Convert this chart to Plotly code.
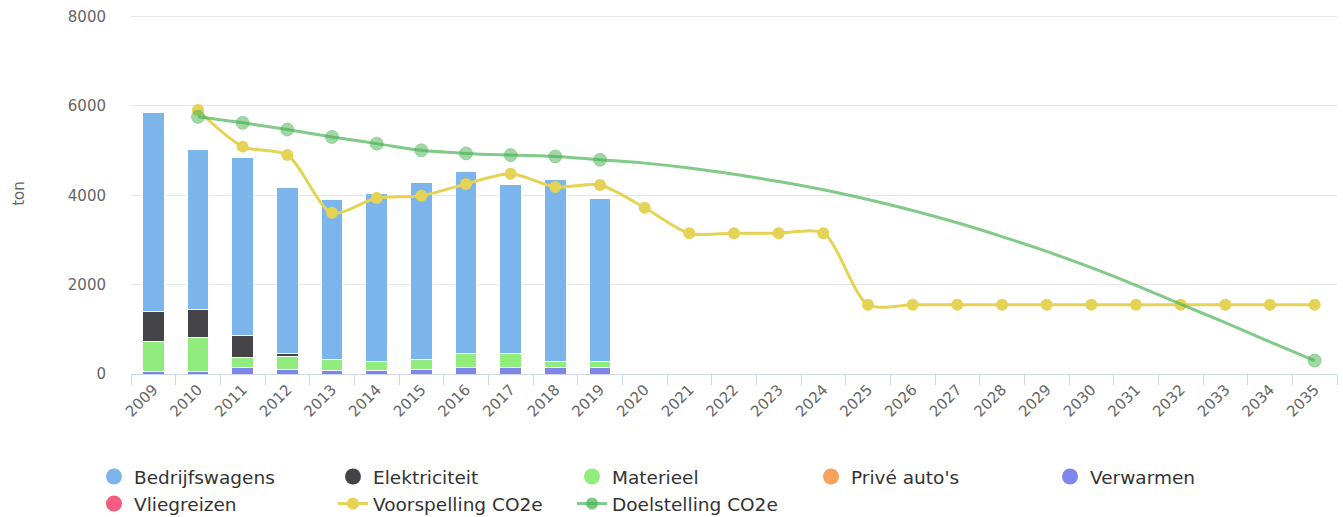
import plotly.graph_objects as go

years = [str(y) for y in range(2009, 2036)]
bar_years = [str(y) for y in range(2009, 2020)]

verwarmen = [60, 60, 150, 110, 85, 80, 110, 150, 150, 150, 150]
materieel = [660, 767, 210, 290, 240, 205, 210, 320, 320, 140, 130]
elektriciteit = [677, 616, 510, 70, 0, 0, 0, 0, 0, 0, 0]
prive_autos = [0, 0, 0, 0, 0, 0, 0, 0, 0, 0, 0]
vliegreizen = [0, 0, 0, 0, 0, 0, 0, 0, 0, 0, 0]
bedrijfswagens = [4459, 3585, 3985, 3705, 3576, 3744, 3964, 4070, 3775, 4066, 3650]

voorspelling_years = [str(y) for y in range(2010, 2036)]
voorspelling = [5908, 5089, 4900, 3608, 3939, 3991, 4254, 4480, 4187, 4230,
                3720, 3150, 3150, 3150, 3150,
                1550, 1550, 1550, 1550, 1550, 1550, 1550, 1550, 1550, 1550, 1550]

doel_years = [str(y) for y in range(2010, 2036)]
doelstelling = [5757, 5622, 5472, 5306, 5156, 5006, 4938, 4900, 4870, 4795,
                4720, 4610, 4470, 4310, 4125, 3906, 3660, 3384, 3076, 2743,
                2380, 1985, 1563, 1150, 720, 300]
# markers are shown only on the years that carry one in the original
doel_marker_shown = [True] * 10 + [False] * 15 + [True]

y_ticks = [0, 2000, 4000, 6000, 8000]

C_BEDR = "#7cb5ec"
C_ELEK = "#434348"
C_MAT = "#90ed7d"
C_PRIVE = "#f7a35c"
C_VERW = "#8085e9"
C_VLIEG = "#f15c80"
C_VOOR = "#e4d354"
C_DOEL = "rgba(76,180,86,0.7)"
C_DOEL_M = "rgba(76,180,86,0.75)"

FONT = "DejaVu Sans"

fig = go.Figure()

bar_line = dict(color="white", width=1)
for name, vals, col in [("Verwarmen", verwarmen, C_VERW),
                        ("Vliegreizen", vliegreizen, C_VLIEG),
                        ("Privé auto's", prive_autos, C_PRIVE),
                        ("Materieel", materieel, C_MAT),
                        ("Elektriciteit", elektriciteit, C_ELEK),
                        ("Bedrijfswagens", bedrijfswagens, C_BEDR)]:
    fig.add_trace(go.Bar(x=bar_years, y=vals, name=name, marker=dict(color=col, line=bar_line),
                         showlegend=False))

fig.add_trace(go.Scatter(x=voorspelling_years, y=voorspelling, mode="lines+markers",
                         name="Voorspelling CO2e", showlegend=False,
                         line=dict(color=C_VOOR, width=3, shape="spline", smoothing=0.8),
                         marker=dict(color=C_VOOR, size=12)))
fig.add_trace(go.Scatter(x=doel_years, y=doelstelling, mode="lines+markers",
                         name="Doelstelling CO2e", showlegend=False,
                         line=dict(color=C_DOEL, width=3, shape="spline"),
                         marker=dict(color=C_DOEL_M,
                                     size=[13 if s else 0 for s in doel_marker_shown])))

# legend entries
for name, col in [("Bedrijfswagens", C_BEDR), ("Elektriciteit", C_ELEK), ("Materieel", C_MAT),
                  ("Privé auto's", C_PRIVE), ("Verwarmen", C_VERW), ("Vliegreizen", C_VLIEG)]:
    fig.add_trace(go.Scatter(x=[None], y=[None], mode="markers", name=name,
                             marker=dict(color=col, size=17, symbol="circle")))
fig.add_trace(go.Scatter(x=[None], y=[None], mode="lines+markers", name="Voorspelling CO2e",
                         line=dict(color=C_VOOR, width=3), marker=dict(color=C_VOOR, size=12)))
fig.add_trace(go.Scatter(x=[None], y=[None], mode="lines+markers", name="Doelstelling CO2e",
                         line=dict(color=C_DOEL, width=3), marker=dict(color=C_DOEL_M, size=12)))

fig.update_layout(
    width=1343, height=517,
    margin=dict(l=131, r=6, t=13.4, b=143),
    paper_bgcolor="white", plot_bgcolor="white",
    barmode="stack", bargap=0.52,
    font=dict(family=FONT, color="#666666", size=15),
    showlegend=True,
    legend=dict(orientation="h", xref="container", yref="container",
                x=94 / 1343, xanchor="left", y=1 - 458 / 517, yanchor="top",
                entrywidth=194, entrywidthmode="pixels",
                font=dict(family=FONT, size=18.5, color="#333333"),
                traceorder="normal", itemwidth=30),
    xaxis=dict(type="category", categoryorder="array", categoryarray=years,
               range=[-0.5, len(years) - 0.5], automargin=False,
               tickangle=-45, tickson="boundaries", ticks="outside", ticklen=10,
               tickcolor="#ccd6eb", showline=True, linecolor="#ccd6eb", linewidth=1,
               showgrid=False, tickfont=dict(size=15, color="#666666")),
    yaxis=dict(range=[0, 8080], tickvals=y_ticks, automargin=False,
               showgrid=True, gridcolor="#e6e6e6", zeroline=False, showline=False,
               ticks="", ticklabelstandoff=24,
               title=dict(text="ton", font=dict(size=15, color="#666666"), standoff=39),
               tickfont=dict(size=15, color="#666666")),
)

fig.write_html("out.html", config={"displayModeBar": False},
               post_script="document.body.style.margin='0';document.body.style.overflow='hidden';")
